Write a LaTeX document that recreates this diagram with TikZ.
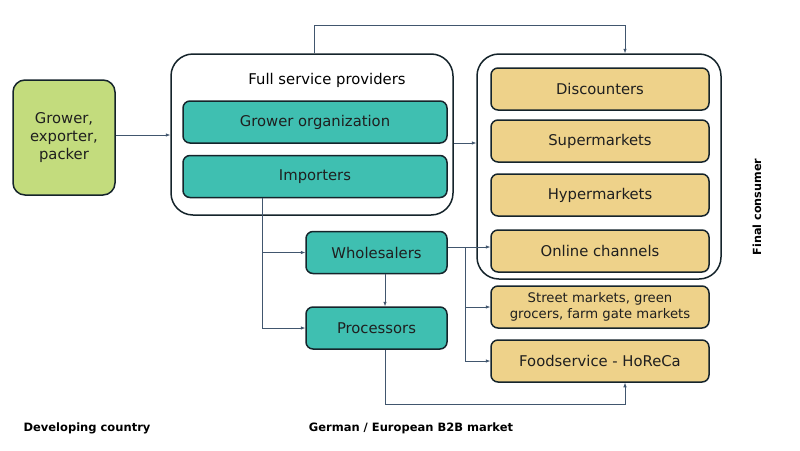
\documentclass[tikz,border=0pt]{standalone}
\usepackage{fontspec}
\setmainfont{DejaVu Sans}
\usetikzlibrary{arrows.meta,positioning}

\definecolor{growerc}{HTML}{C3DC7D}
\definecolor{tealc}{HTML}{3FBFB1}
\definecolor{sandc}{HTML}{EED28A}
\definecolor{boxline}{HTML}{15242B}
\definecolor{linec}{HTML}{41566E}

\begin{document}
\begin{tikzpicture}[x=1pt,y=-1pt,->,>={Latex[length=4.5pt,width=3.5pt]},draw=linec,
    font=\fontsize{14.8}{18}\selectfont]
    \tikzstyle{box}=[draw=boxline, line width=1.5pt, rounded corners=7pt, align=center, inner sep=0pt, text=black!88]
    \tikzstyle{group}=[box, fill=white, rounded corners=22pt]
    \tikzstyle{teal box}=[box, fill=tealc, minimum height=42pt]
    \tikzstyle{sand box}=[box, fill=sandc, minimum width=218pt, minimum height=42pt]
    \tikzstyle{flow}=[line width=0.6pt, draw=linec]
    \tikzstyle{annot}=[font=\fontsize{11.5}{14}\selectfont\bfseries]

    \useasboundingbox (0,0) rectangle (800,450);

    % Draw the grower node
    \node[box, fill=growerc, rounded corners=12pt, minimum width=102pt, minimum height=115pt]
        (grower) at (64,137.5) {Grower,\\exporter,\\packer};

    % Draw the full service providers group
    \node[group, minimum width=282pt, minimum height=161pt] (fsp) at (312,134.5) {};
    \node (fsptitle) at (327,80) {Full service providers};
    \node[teal box, minimum width=264pt] (growerorg) at (315,122) {Grower organization};
    \node[teal box, minimum width=264pt] (importers) at (315,176.5) {Importers};

    % Draw the B2B layer nodes
    \node[teal box, minimum width=141pt] (whole) at (376.5,252.5) {Wholesalers};
    \node[teal box, minimum width=141pt] (proc) at (376.5,328) {Processors};

    % Draw the retail group
    \node[group, minimum width=244pt, minimum height=225pt] (retail) at (599,166.5) {};
    \foreach \name / \y / \txt in {disc/89/Discounters, super/141/Supermarkets,
                                   hyper/195/Hypermarkets, online/251/Online channels}
        \node[sand box] (\name) at (600,\y) {\txt};

    % Draw the other outlets
    \node[sand box, font=\fontsize{13.2}{16}\selectfont] (street) at (600,307)
        {Street markets, green\\grocers, farm gate markets};
    \node[sand box] (food) at (600,361) {Foodservice - HoReCa};

    % Connect the nodes
    \draw[flow] (grower.east |- 0,135) -- (fsp.west |- 0,135);
    \draw[flow] (fsp.east |- 0,143) -- (retail.west |- 0,143);
    \coordinate (topl) at (314,25);
    \coordinate (topr) at (625,25);
    \draw[flow] (fsp.north -| topl) -- (topl) -- (topr) -- (retail.north -| topr);

    \coordinate (impdown) at (262,328);
    \draw[flow] (importers.south -| impdown) -- (impdown) -- (proc.west |- impdown);
    \draw[flow] (importers.south -| impdown) |- (whole.west);
    \draw[flow] (whole.south -| 385,0) -- (proc.north -| 385,0);

    \coordinate (wjoin) at (465,247);
    \draw[flow] (whole.east |- wjoin) -- (online.west |- wjoin);
    \foreach \dest in {street,food}
        \draw[flow] (wjoin) |- (\dest.west);

    \coordinate (procdown) at (385,404);
    \draw[flow] (proc.south -| procdown) -- (procdown) -| (food.south -| topr);

    % Annotate the markets
    \node[annot, rotate=90, font=\fontsize{11.2}{14}\selectfont\bfseries] (consumer) at (757,207) {Final consumer};
    \node[annot] (devel) at (87,428) {Developing country};
    \node[annot] (b2b) at (411,428) {German / European B2B market};
\end{tikzpicture}
\end{document}
